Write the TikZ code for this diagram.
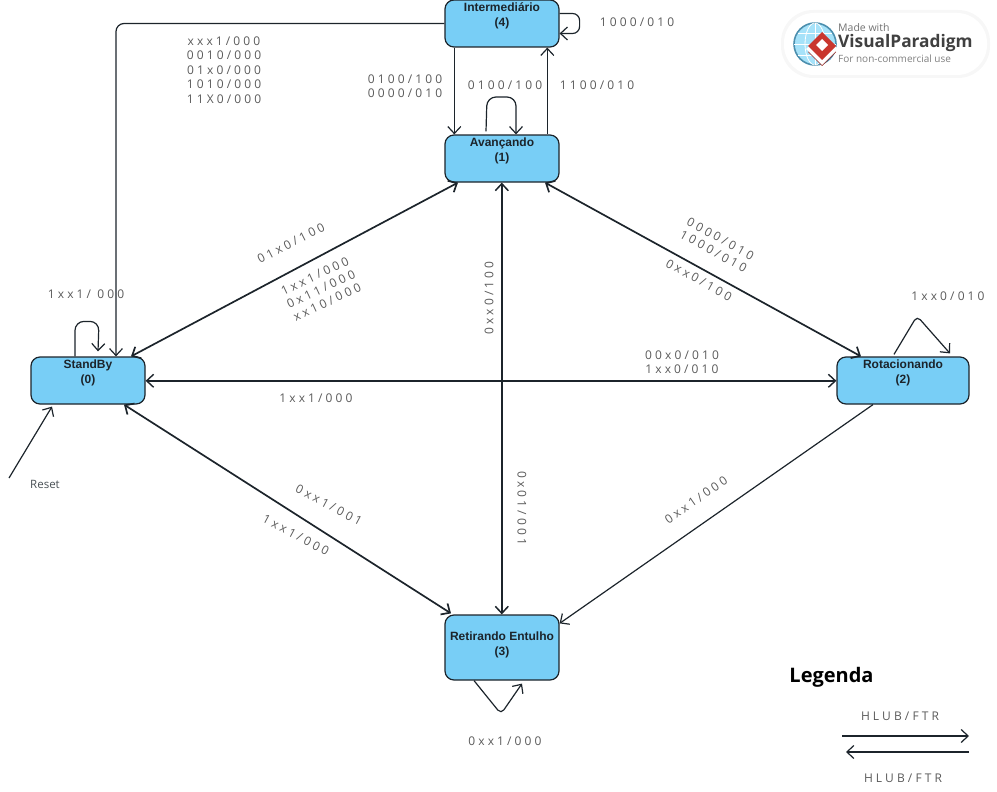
\documentclass[tikz,border=0pt]{standalone}
\usepackage{fontspec}
\usetikzlibrary{arrows.meta}
\setmainfont{Liberation Sans}
\newfontfamily\edgefont[LetterSpace=26]{Open Sans}
\newfontfamily\plainfont{Open Sans}
\definecolor{statefill}{HTML}{78CEF6}
\definecolor{stateline}{HTML}{1C242B}
\definecolor{edgegrey}{HTML}{5A5A5A}
\definecolor{vpred}{HTML}{C9362E}
\definecolor{vpglobe}{HTML}{4C8FAE}

\begin{document}
\begin{tikzpicture}[
  x=1pt, y=-1pt,
  state/.style={draw=stateline, line width=1.2pt, rounded corners=9pt, fill=statefill,
                minimum width=114pt, minimum height=47pt, inner sep=0pt, align=center,
                text depth=17pt, text=stateline, font=\fontsize{12}{15}\selectfont\bfseries},
  arr/.style={-{Straight Barb[length=7pt,width=13pt]}, line width=1.2pt, draw=stateline},
  both/.style={{Straight Barb[length=7pt,width=13pt]}-{Straight Barb[length=7pt,width=13pt]},
               line width=1.7pt, draw=stateline},
  edgelbl/.style={align=center, inner sep=0pt, text=edgegrey,
                  font=\fontsize{12}{14.4}\edgefont}
]
\useasboundingbox (0,0) rectangle (997,792);

% states
\node[state] (inter) at (502,23.5) {Intermediário\\(4)};
\node[state] (avanc) at (502,158.5) {Avançando\\(1)};
\node[state] (standby) at (88,380.5) {StandBy\\(0)};
\node[state, minimum width=132pt] (rotac) at (903,380.5) {Rotacionando\\(2)};
\node[state, minimum height=65pt, text depth=8pt] (retir) at (502,647.5) {Retirando Entulho\\(3)};

% long transitions
\draw[both] ([xshift=-44pt]avanc.south) -- ([xshift=43pt]standby.north);
\draw[both] ([xshift=43pt]avanc.south) -- ([xshift=-42pt]rotac.north);
\draw[both, line width=1.5pt] ([xshift=-.2pt]avanc.south) -- ([xshift=-.2pt]retir.north);
\draw[both, line width=1.4pt] ([yshift=-.3pt]standby.east) -- ([yshift=-.3pt]rotac.west);
\draw[both] ([xshift=36pt]standby.south) -- ([xshift=-51pt,yshift=1pt]retir.north);
\draw[arr] ([xshift=-30pt]rotac.south) -- ([yshift=-9pt]retir.north east);

% intermediario
\draw[arr, rounded corners=8pt] (inter.west) -| ([xshift=28pt]standby.north);
\draw[arr] ([xshift=-47.7pt]inter.south) -- ([xshift=-47.7pt]avanc.north);
\draw[arr] ([xshift=45.3pt]avanc.north) -- ([xshift=45.3pt]inter.south);

% self loops
\draw[arr, rounded corners=7pt] ([yshift=10pt]inter.east) -- ++(20,0) -- ++(0,20) -- ([yshift=-10pt]inter.east);
\draw[arr, rounded corners=9pt] ([xshift=-16pt,yshift=3pt]avanc.north) -- (487,97) -- (516,97) -- ([xshift=14pt]avanc.north);
\draw[arr, rounded corners=9pt] ([xshift=-13pt]standby.north) -- ++(0,-35) -- ++(24,0) -- ([xshift=10pt,yshift=5pt]standby.north);
\draw[arr, rounded corners=5pt] ([xshift=-9pt,yshift=2pt]rotac.north) -- (917,316) -- ([xshift=47pt,yshift=3pt]rotac.north);
\draw[arr, rounded corners=5pt] ([xshift=-28pt]retir.south) -- (501,714) -- ([xshift=20pt,yshift=-3pt]retir.south);

% reset
\coordinate (resetstart) at (9,478);
\draw[arr] (resetstart) -- ([xshift=-36pt,yshift=-2pt]standby.south);
\node[inner sep=0pt, text=stateline!80, font=\fontsize{11.5}{13}\plainfont] (resetlbl) at (45,484) {Reset};

% transition labels
\node[edgelbl] (l1) at (224,70) {xxx1/000\\0010/000\\01x0/000\\1010/000\\11X0/000};
\node[edgelbl] (l2) at (637,22.5) {1000/010};
\node[edgelbl] (l3) at (405,86) {0100/100\\0000/010};
\node[edgelbl] (l4) at (505,85) {0100/100};
\node[edgelbl] (l5) at (597,85) {1100/010};
\node[edgelbl, rotate=27] (l6) at (291,243) {01x0/100};
\node[edgelbl, rotate=25] (l7) at (321,289) {1xx1/000\\0x11/000\\xx10/000};
\node[edgelbl, rotate=90] (l8) at (489,298) {0xx0/100};
\node[edgelbl, rotate=-90] (l9) at (522,508) {0x01/001};
\node[edgelbl, rotate=-29] (l10) at (717,245) {0000/010\\1000/010};
\node[edgelbl, rotate=-29] (l11) at (699,280) {0xx0/100};
\node[edgelbl] (l12) at (682,362) {00x0/010\\1xx0/010};
\node[edgelbl] (l13) at (316,398) {1xx1/000};
\node[edgelbl] (l14) at (948,296.5) {1xx0/010};
\node[edgelbl] (l15) at (86,294.5) {1xx1/ 000};
\node[edgelbl, rotate=-28] (l16) at (329,505) {0xx1/001};
\node[edgelbl, rotate=-28] (l17) at (296,535) {1xx1/000};
\node[edgelbl, rotate=35] (l18) at (696,500) {0xx1/000};
\node[edgelbl] (l19) at (505,741.5) {0xx1/000};

% legend
\node[inner sep=0pt, font=\fontsize{20}{22}\plainfont\bfseries] (legend) at (831.5,677) {Legenda};
\node[edgelbl] (hlubtop) at (900,716.5) {HLUB/FTR};
\node[edgelbl] (hlubbot) at (903,778.5) {HLUB/FTR};
\coordinate (legaleft) at (842,736);
\coordinate (legaright) at (969,736);
\coordinate (legbleft) at (846,752);
\coordinate (legbright) at (969,752);
\draw[arr] (legaleft) -- (legaright);
\draw[arr] (legbright) -- (legbleft);

% watermark
\fill[black!3, rounded corners=32pt] (781,10) rectangle (990,78);
\fill[white, rounded corners=30pt] (784,13) rectangle (987,75);
\filldraw[fill=cyan!35, draw=vpglobe, line width=1.6pt] (815,44) circle (21);
\draw[white, line width=0.8pt] (815,23) -- (815,65) (794,44) -- (836,44) (798,33) -- (832,33) (798,55) -- (832,55);
\draw[white, line width=0.8pt] (815,44) ellipse (10 and 21);
\fill[vpred!75!black] (808,52) -- (822,66) -- (836,52) -- (822,38) -- cycle;
\fill[white] (806,49) -- (822,65) -- (838,49) -- (822,33) -- cycle;
\fill[vpred] (808,46) -- (822,60) -- (836,46) -- (822,32) -- cycle;
\fill[white] (816,45) -- (822,51) -- (828,45) -- (822,39) -- cycle;
\node[anchor=west, inner sep=0pt, text=black!55, font=\fontsize{10.5}{12}\plainfont] (vpmade) at (838,28) {Made with};
\node[anchor=west, inner sep=0pt, text=black!75, font=\fontsize{17.3}{20}\plainfont\bfseries] (vpname) at (838,43) {VisualParadigm};
\node[anchor=west, inner sep=0pt, text=black!50, font=\fontsize{10}{12}\plainfont] (vpuse) at (838,58.5) {For non-commercial use};
\end{tikzpicture}
\end{document}
